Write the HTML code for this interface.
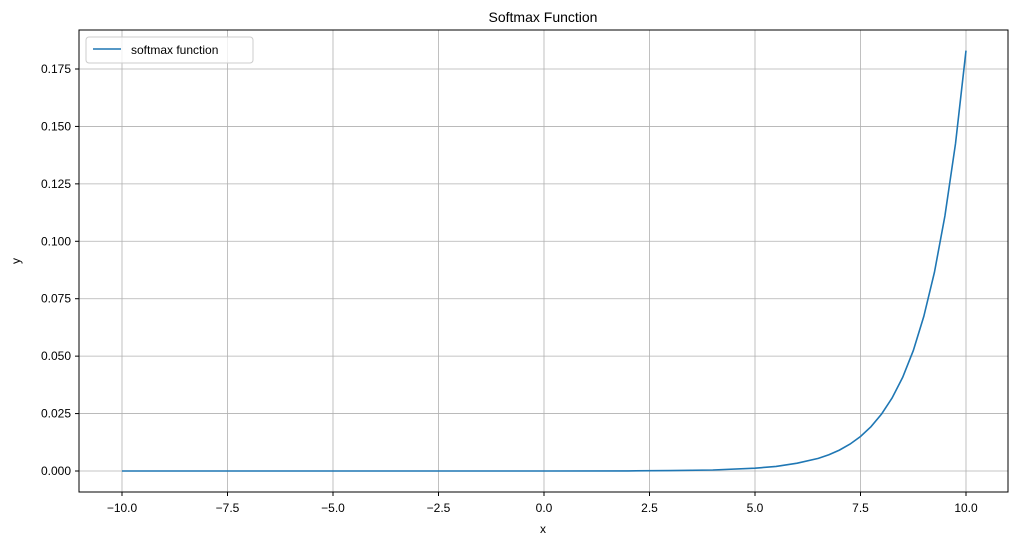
<!DOCTYPE html>
<html><head><meta charset="utf-8"><style>
body{margin:0;background:#fff;}
svg text{font-family:"Liberation Sans","DejaVu Sans",sans-serif;fill:#000;}
</style></head><body>
<svg id="chart" width="1019" height="545" xmlns="http://www.w3.org/2000/svg">
<rect x="0" y="0" width="1019" height="545" fill="#fff"/>
<text x="543" y="22" font-size="14" text-anchor="middle">Softmax Function</text>
<g id="grid"></g>
<g id="ticks"></g>
<path id="line" fill="none" stroke="#1f77b4" stroke-width="1.6"/>
<rect x="79" y="30" width="929" height="462" fill="none" stroke="#000" stroke-width="1"/>
<text x="543" y="533" font-size="12" text-anchor="middle">x</text>
<text x="20" y="261" font-size="12" text-anchor="middle" transform="rotate(-90 20 261)">y</text>
<g>
<rect x="86" y="37" width="167" height="26" rx="3" fill="#fff" fill-opacity="0.8" stroke="#ccc"/>
<line x1="93" y1="49" x2="121" y2="49" stroke="#1f77b4" stroke-width="1.6"/>
<text x="131" y="54" font-size="12">softmax function</text>
</g>
</svg>
<script>
const xTicks=[-10,-7.5,-5,-2.5,0,2.5,5,7.5,10];
const xTickLabels=["−10.0","−7.5","−5.0","−2.5","0.0","2.5","5.0","7.5","10.0"];
const yTicks=[0,0.025,0.05,0.075,0.1,0.125,0.15,0.175];
const yTickLabels=["0.000","0.025","0.050","0.075","0.100","0.125","0.150","0.175"];
const xs=[-10,-5,0,2,3,4,5,5.5,6,6.5,6.75,7,7.25,7.5,7.75,8,8.25,8.5,8.75,9,9.25,9.5,9.75,10];
const ys=[0,0,0.00001,0.00006,0.00017,0.00045,0.0012,0.002,0.0034,0.0055,0.0071,0.0091,0.0117,0.015,0.0193,0.0248,0.0318,0.0408,0.0524,0.0673,0.0864,0.111,0.1425,0.183];
const X=v=>122+(v+10)*(966-122)/20;
const Y=v=>471-v*(402/0.175);
const NS="http://www.w3.org/2000/svg";
const grid=document.getElementById('grid'),ticks=document.getElementById('ticks');
function mk(tag,attrs,parent){const e=document.createElementNS(NS,tag);for(const k in attrs)e.setAttribute(k,attrs[k]);parent.appendChild(e);return e;}
xTicks.forEach((t,i)=>{
 const g=mk('line',{x1:X(t),x2:X(t),y1:30,y2:492,stroke:'#b0b0b0','stroke-width':0.8},grid);
 
 
 mk('line',{x1:X(t),x2:X(t),y1:492,y2:496,stroke:'#000'},ticks);
 const tx=mk('text',{x:X(t),y:512,'font-size':12,'text-anchor':'middle'},ticks);
 tx.textContent=xTickLabels[i];
 
 
});
yTicks.forEach((t,i)=>{
 const g=mk('line',{x1:79,x2:1008,y1:Y(t),y2:Y(t),stroke:'#b0b0b0','stroke-width':0.8},grid);
 
 
 mk('line',{x1:75,x2:79,y1:Y(t),y2:Y(t),stroke:'#000'},ticks);
 const tx=mk('text',{x:71,y:Y(t)+4,'font-size':12,'text-anchor':'end'},ticks);
 tx.textContent=yTickLabels[i];
 
 
});
document.getElementById('line').setAttribute('d',xs.map((x,i)=>(i?'L':'M')+X(x).toFixed(1)+','+Y(ys[i]).toFixed(1)).join(''));
</script>
</body></html>
